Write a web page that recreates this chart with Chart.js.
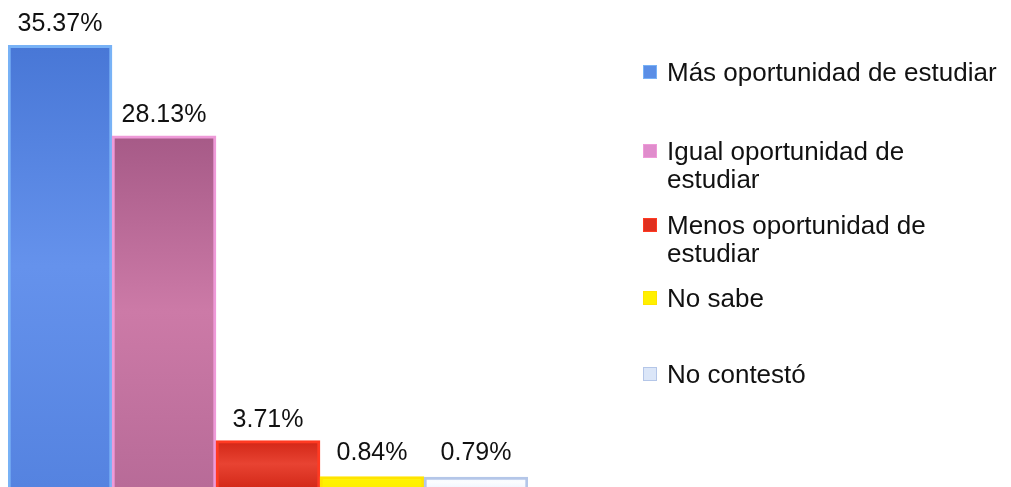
<!DOCTYPE html>
<html>
<head>
<meta charset="utf-8">
<script src="https://cdn.jsdelivr.net/npm/chart.js@4.4.0/dist/chart.umd.min.js"></script>
<style>
  html, body { margin: 0; padding: 0; background: #ffffff; }
  #wrap { position: relative; width: 1011px; height: 487px; }
</style>
</head>
<body>
<div id="wrap"><canvas id="c" width="1011" height="487"></canvas></div>
<script>
const categories = ['Más oportunidad de estudiar', 'Igual oportunidad de estudiar', 'Menos oportunidad de estudiar', 'No sabe', 'No contestó'];
const values = [35.37, 28.13, 3.71, 0.84, 0.79];
const valueLabels = ['35.37%', '28.13%', '3.71%', '0.84%', '0.79%'];
const legendLines = [
  ['Más oportunidad de estudiar'],
  ['Igual oportunidad de', 'estudiar'],
  ['Menos oportunidad de', 'estudiar'],
  ['No sabe'],
  ['No contestó']
];

// colour styling (top, middle, bottom of gradient) and border
const fillStops = [
  ['#4877d6', '#6592ec', '#5583e0'],
  ['#a65a87', '#cc7aa7', '#b86b98'],
  ['#d22616', '#e84332', '#d42a1a'],
  ['#fff000', '#fff200', '#ffee00'],
  ['#f2f7ff', '#fbfdff', '#f2f7ff']
];
const borderColors = ['#78b2f6', '#ee9ad8', '#ff3a22', '#ffe400', '#b4c6e8'];
const legendColors = ['#5a8ee6', '#e08ccc', '#e03020', '#fff000', '#dbe6f8'];

function barFill(ctx) {
  const chart = ctx.chart;
  const i = ctx.dataIndex;
  const area = chart.chartArea;
  const stops = fillStops[i];
  if (!area || !chart.scales.y) return stops[1];
  const top = chart.scales.y.getPixelForValue(values[i]);
  const bottom = chart.scales.y.getPixelForValue(0);
  if (!(bottom - top > 1)) return stops[1];
  const g = chart.ctx.createLinearGradient(0, top, 0, bottom);
  g.addColorStop(0, stops[0]);
  g.addColorStop(0.5, stops[1]);
  g.addColorStop(1, stops[2]);
  return g;
}

const valueLabelPlugin = {
  id: 'valueLabels',
  afterDatasetsDraw(chart) {
    const ctx = chart.ctx;
    const meta = chart.getDatasetMeta(0);
    ctx.save();
    ctx.font = '25px "Liberation Sans", Arial, sans-serif';
    ctx.fillStyle = '#111111';
    ctx.textAlign = 'center';
    ctx.textBaseline = 'alphabetic';
    meta.data.forEach((bar, i) => {
      const off = (bar.base - bar.y) < 20 ? 17 : 14;
      ctx.fillText(valueLabels[i], bar.x, bar.y - off);
    });
    ctx.restore();
  }
};

const legendPlugin = {
  id: 'sideLegend',
  afterDraw(chart) {
    const ctx = chart.ctx;
    const baselines = [81, 160, 234, 307, 383];
    const lineH = 28;
    const markerX = 643, markerS = 14, textX = 667;
    ctx.save();
    ctx.font = '26px "Liberation Sans", Arial, sans-serif';
    ctx.textAlign = 'left';
    ctx.textBaseline = 'alphabetic';
    legendLines.forEach((lines, i) => {
      const b = baselines[i];
      const my = b - 9 - markerS / 2;
      ctx.fillStyle = legendColors[i];
      ctx.fillRect(markerX, my, markerS, markerS);
      ctx.strokeStyle = borderColors[i];
      ctx.lineWidth = 1;
      ctx.strokeRect(markerX + 0.5, my + 0.5, markerS - 1, markerS - 1);
      ctx.fillStyle = '#111111';
      lines.forEach((t, k) => ctx.fillText(t, textX, b + k * lineH));
    });
    ctx.restore();
  }
};

new Chart(document.getElementById('c'), {
  type: 'bar',
  data: {
    labels: categories,
    datasets: [{
      data: values,
      backgroundColor: barFill,
      borderColor: borderColors,
      borderWidth: 3,
      categoryPercentage: 1,
      barPercentage: 1
    }]
  },
  options: {
    responsive: false,
    animation: false,
    events: [],
    layout: { padding: { left: 8, right: 483, top: 0, bottom: 0 } },
    scales: {
      x: { display: false },
      y: { display: false, min: 0, max: 39 }
    },
    plugins: {
      legend: { display: false },
      tooltip: { enabled: false }
    }
  },
  plugins: [valueLabelPlugin, legendPlugin]
});
</script>
</body>
</html>
